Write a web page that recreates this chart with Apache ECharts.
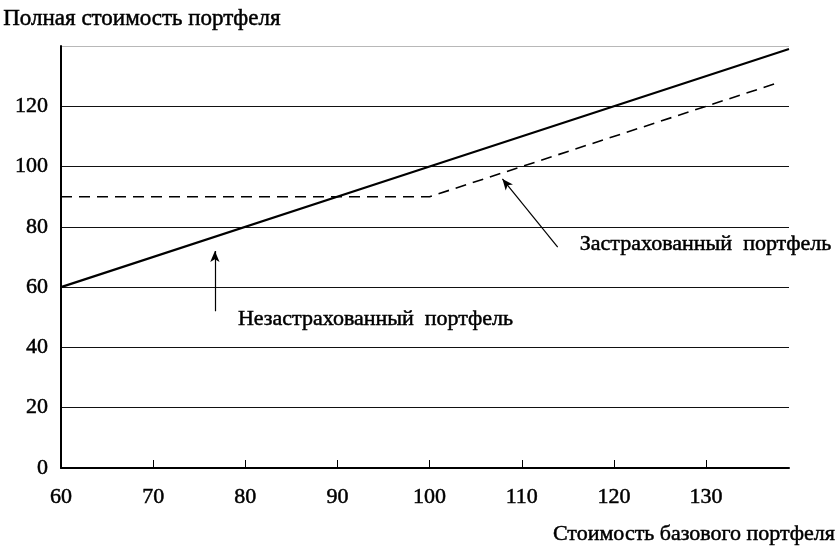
<!DOCTYPE html>
<html>
<head>
<meta charset="utf-8">
<script src="https://cdn.jsdelivr.net/npm/echarts@6/dist/echarts.min.js"></script>
<style>
  html, body { margin: 0; padding: 0; background: #fff; }
  #chart { width: 839px; height: 547px; }
</style>
</head>
<body>
<div id="chart"></div>
<script>
// Value of the underlying portfolio (x) and total portfolio value (y)
const underlyingX = [60, 100, 139];
const unhedgedY = [60, 100, 139];
const hedgedX = [60, 100, 138];
const hedgedY = [90, 90, 128];

const xTicks = [60, 70, 80, 90, 100, 110, 120, 130];
const yTicks = [0, 20, 40, 60, 80, 100, 120];

// Callout arrows [from, to] in data units, and their captions
const arrowUnhedged = [[76.7, 52], [76.7, 72]];
const arrowHedged = [[113.9, 73.3], [107.9, 95.9]];
const captionUnhedged = { text: 'Незастрахованный  портфель', at: [79.2, 49.2] };
const captionHedged = { text: 'Застрахованный  портфель', at: [116.3, 74.2] };

const FONT = '"Liberation Serif", "DejaVu Serif", serif';
const SIZE = 22;
const INK = { color: '#000', textBorderColor: '#000', textBorderWidth: 0.5 };

const unhedgedData = underlyingX.map((x, i) => [x, unhedgedY[i]]);
const hedgedData = hedgedX.map((x, i) => [x, hedgedY[i]]);

const chart = echarts.init(document.getElementById('chart'), null, { renderer: 'canvas' });

chart.setOption({
  backgroundColor: '#fff',
  animation: false,
  textStyle: { fontFamily: FONT, color: '#000' },
  grid: { left: 61, right: 50, top: 46, bottom: 79, containLabel: false },
  graphic: [
    {
      type: 'text', left: 3, top: 7,
      style: { text: 'Полная стоимость портфеля', font: '23px ' + FONT, fill: '#000',
        stroke: '#000', lineWidth: 0.5 }
    },
    {
      type: 'text', right: 4, top: 523,
      style: { text: 'Стоимость базового портфеля', font: SIZE + 'px ' + FONT, fill: '#000',
        stroke: '#000', lineWidth: 0.5 }
    }
  ],
  xAxis: {
    type: 'value',
    min: 60, max: 139, interval: 10,
    axisLine: { show: true, lineStyle: { color: '#000', width: 2 } },
    axisTick: { show: true, inside: true, length: 8, customValues: xTicks.slice(1),
      lineStyle: { color: '#000', width: 1 } },
    axisLabel: Object.assign({ customValues: xTicks, margin: 18, fontSize: SIZE, fontFamily: FONT }, INK),
    splitLine: { show: false }
  },
  yAxis: {
    type: 'value',
    min: 0, max: 140, interval: 20,
    axisLine: { show: true, lineStyle: { color: '#000', width: 2 } },
    axisTick: { show: false },
    axisLabel: Object.assign({ customValues: yTicks, margin: 13, fontSize: SIZE, fontFamily: FONT }, INK),
    splitLine: {
      show: true,
      lineStyle: {
        width: 1,
        color: ['#000', '#111', '#111', '#111', '#111', '#111', '#111', '#b8b8b8']
      }
    }
  },
  series: [
    {
      name: 'Незастрахованный портфель',
      type: 'line',
      data: unhedgedData,
      symbol: 'none',
      lineStyle: { color: '#000', width: 2.2 },
      z: 3,
      markLine: {
        silent: true,
        symbol: ['none', 'arrow'],
        symbolSize: [7, 11],
        lineStyle: { color: '#000', width: 1.2, type: 'solid' },
        label: { show: false },
        data: [
          [{ coord: arrowUnhedged[0] }, { coord: arrowUnhedged[1] }],
          [{ coord: arrowHedged[0] }, { coord: arrowHedged[1] }]
        ]
      },
      markPoint: {
        silent: true,
        symbol: 'circle',
        symbolSize: 0,
        label: Object.assign({
          show: true,
          position: 'right',
          distance: 0,
          fontSize: SIZE,
          fontFamily: FONT,
          formatter: p => p.name
        }, INK),
        data: [
          { name: captionUnhedged.text, coord: captionUnhedged.at },
          { name: captionHedged.text, coord: captionHedged.at }
        ]
      }
    },
    {
      name: 'Застрахованный портфель',
      type: 'line',
      data: hedgedData,
      symbol: 'none',
      lineStyle: { color: '#000', width: 1.6, type: [11, 7] },
      z: 3
    }
  ]
});
</script>
</body>
</html>
